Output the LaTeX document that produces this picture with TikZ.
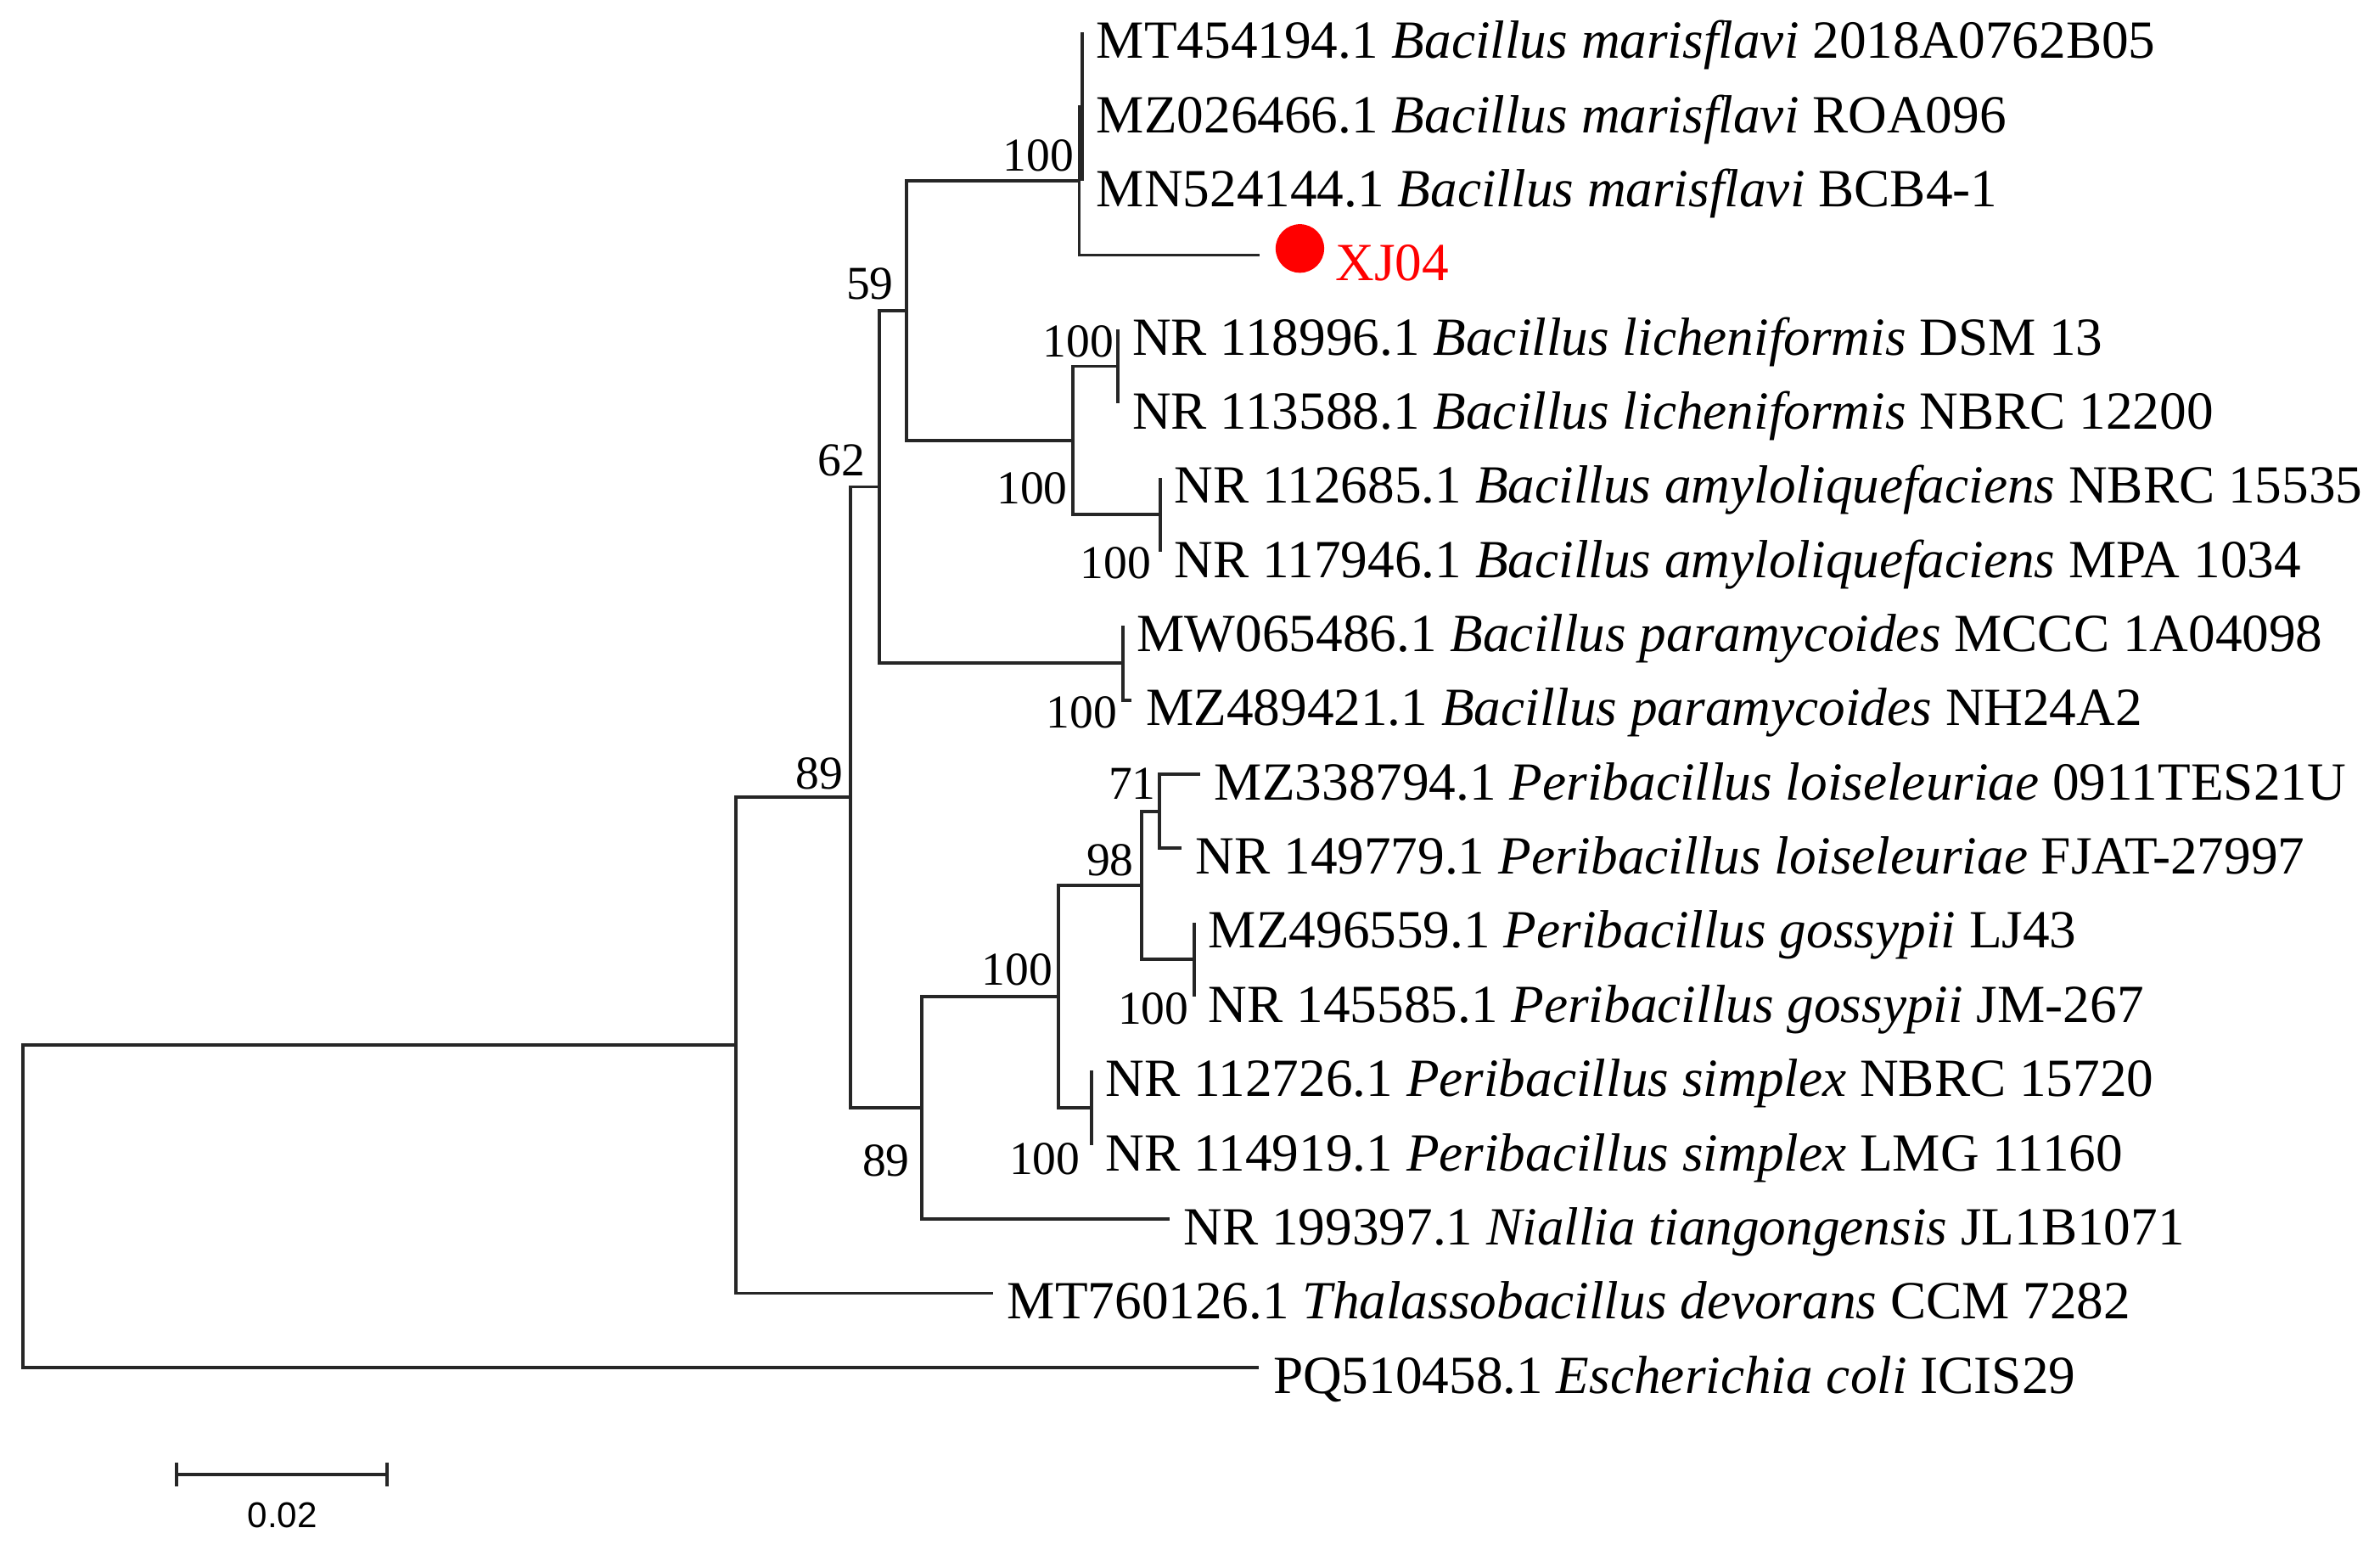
\documentclass[tikz,border=0pt]{standalone}
\usepackage{fontspec}
\setmainfont{Liberation Serif}
\newfontfamily\barfont{Liberation Sans}
\usepackage{tikz}
\usetikzlibrary{positioning}

\begin{document}
\begin{tikzpicture}[
    x=0.017883cm, y=-0.017883cm,
    branch/.style={draw=black!85, line width=1.1pt},
    leaf/.style={anchor=base west, inner sep=0pt, xshift=4.6pt, yshift=-8.6pt,
      font=\fontsize{18}{21}\selectfont},
    bootup/.style={anchor=south east, inner sep=0pt, font=\fontsize{15.8}{18}\selectfont},
    bootdown/.style={anchor=north east, inner sep=0pt, font=\fontsize{15.8}{18}\selectfont}
  ]
  \useasboundingbox (0,0) rectangle (1568,1025);
  % internal nodes
  \coordinate (root) at (15,794.7);
  \coordinate (A) at (485,688.6);
  \coordinate (B) at (560.5,525.3);
  \coordinate (C) at (579.2,320.7);
  \coordinate (E) at (597,204.7);
  \coordinate (F) at (711,119.2);
  \coordinate (M) at (713,70.35);
  \coordinate (G) at (707,290.2);
  \coordinate (L) at (736.7,241.3);
  \coordinate (Am) at (764.3,339.0);
  \coordinate (P) at (739.7,436.7);
  \coordinate (D) at (607.5,729.8);
  \coordinate (H) at (697.4,656.5);
  \coordinate (I) at (752.3,583.3);
  \coordinate (J) at (764,534.4);
  \coordinate (Go) at (786.8,632.1);
  \coordinate (S) at (719,729.8);
  % tips
  \coordinate (t0) at (713,21.5);
  \coordinate (t1) at (713,70.35);
  \coordinate (t2) at (713,119.2);
  \coordinate (t3) at (829.8,168.05);
  \coordinate (t4) at (736.7,216.9);
  \coordinate (t5) at (736.7,265.75);
  \coordinate (t6) at (764.3,314.6);
  \coordinate (t7) at (764.3,363.45);
  \coordinate (t8) at (739.7,412.3);
  \coordinate (t9) at (745.6,461.15);
  \coordinate (t10) at (790.7,510.0);
  \coordinate (t11) at (778.3,558.85);
  \coordinate (t12) at (786.8,607.7);
  \coordinate (t13) at (786.8,656.55);
  \coordinate (t14) at (719,705.4);
  \coordinate (t15) at (719,754.25);
  \coordinate (t16) at (770.4,803.1);
  \coordinate (t17) at (654.3,851.95);
  \coordinate (t18) at (829.4,900.8);

  % branches
  \draw[branch] (root) |- (A) (root) |- (t18);
  \draw[branch] (A) |- (B) (A) |- (t17);
  \draw[branch] (B) |- (C) (B) |- (D);
  \draw[branch] (C) |- (E) (C) |- (P);
  \draw[branch] (E) |- (F) (E) |- (G);
  \draw[branch] (F) |- (M) (F) |- (t3);
  \draw[branch] (M) |- (t0) (M) |- (t2);
  \draw[branch] (G) |- (L) (G) |- (Am);
  \draw[branch] (L) |- (t4) (L) |- (t5);
  \draw[branch] (Am) |- (t6) (Am) |- (t7);
  \draw[branch] (P) |- (t8) (P) |- (t9);
  \draw[branch] (D) |- (H) (D) |- (t16);
  \draw[branch] (H) |- (I) (H) |- (S);
  \draw[branch] (I) |- (J) (I) |- (Go);
  \draw[branch] (J) |- (t10) (J) |- (t11);
  \draw[branch] (Go) |- (t12) (Go) |- (t13);
  \draw[branch] (S) |- (t14) (S) |- (t15);

  % leaf labels
  \node[leaf] (l0) at (t0) {MT454194.1 \textit{Bacillus marisflavi} 2018A0762B05};
  \node[leaf] (l1) at (t1) {MZ026466.1 \textit{Bacillus marisflavi} ROA096};
  \node[leaf] (l2) at (t2) {MN524144.1 \textit{Bacillus marisflavi} BCB4-1};
  \node[circle, fill=red, inner sep=0pt, minimum size=0.572cm] (dot) at (856.4,163.7) {};
  \node[leaf, text=red] (l3) at (870.5,168.05) {XJ04};
  \node[leaf] (l4) at (t4) {NR 118996.1 \textit{Bacillus licheniformis} DSM 13};
  \node[leaf] (l5) at (t5) {NR 113588.1 \textit{Bacillus licheniformis} NBRC 12200};
  \node[leaf] (l6) at (t6) {NR 112685.1 \textit{Bacillus amyloliquefaciens} NBRC 15535};
  \node[leaf] (l7) at (t7) {NR 117946.1 \textit{Bacillus amyloliquefaciens} MPA 1034};
  \node[leaf] (l8) at (t8) {MW065486.1 \textit{Bacillus paramycoides} MCCC 1A04098};
  \node[leaf] (l9) at (t9) {MZ489421.1 \textit{Bacillus paramycoides} NH24A2};
  \node[leaf] (l10) at (t10) {MZ338794.1 \textit{Peribacillus loiseleuriae} 0911TES21U};
  \node[leaf] (l11) at (t11) {NR 149779.1 \textit{Peribacillus loiseleuriae} FJAT-27997};
  \node[leaf] (l12) at (t12) {MZ496559.1 \textit{Peribacillus gossypii} LJ43};
  \node[leaf] (l13) at (t13) {NR 145585.1 \textit{Peribacillus gossypii} JM-267};
  \node[leaf] (l14) at (t14) {NR 112726.1 \textit{Peribacillus simplex} NBRC 15720};
  \node[leaf] (l15) at (t15) {NR 114919.1 \textit{Peribacillus simplex} LMG 11160};
  \node[leaf] (l16) at (t16) {NR 199397.1 \textit{Niallia tiangongensis} JL1B1071};
  \node[leaf] (l17) at (t17) {MT760126.1 \textit{Thalassobacillus devorans} CCM 7282};
  \node[leaf] (l18) at (t18) {PQ510458.1 \textit{Escherichia coli} ICIS29};

  % bootstrap values
  \node[bootup] (bF) at (707.8,113.4) {100};
  \node[bootup] (bE) at (589,198) {59};
  \node[bootup] (bL) at (734,236) {100};
  \node[bootup] (bC) at (570.4,314) {62};
  \node[bootup] (bG) at (703.7,332.7) {100};
  \node[bootup] (bB) at (555.7,520.4) {89};
  \node[bootup] (bJ) at (761.8,527) {71};
  \node[bootup] (bI) at (747.3,577.3) {98};
  \node[bootup] (bH) at (693.8,649.5) {100};
  \node[bootdown] (bAm) at (758.7,359.8) {100};
  \node[bootdown] (bP) at (736.3,458.6) {100};
  \node[bootdown] (bGo) at (783.5,653.7) {100};
  \node[bootdown] (bS) at (711.9,752.8) {100};
  \node[bootdown] (bD) at (599.6,753.8) {89};

  % scale bar
  \coordinate (sb1) at (116.5,971.5);
  \coordinate (sb2) at (255.2,971.5);
  \draw[branch] (sb1) -- (sb2);
  \draw[branch] ([yshift=4pt]sb1) -- ([yshift=-4pt]sb1);
  \draw[branch] ([yshift=4pt]sb2) -- ([yshift=-4pt]sb2);
  \node[font=\barfont\fontsize{12}{14}\selectfont, inner sep=0pt] (sbl) at (186,998) {0.02};
\end{tikzpicture}
\end{document}
